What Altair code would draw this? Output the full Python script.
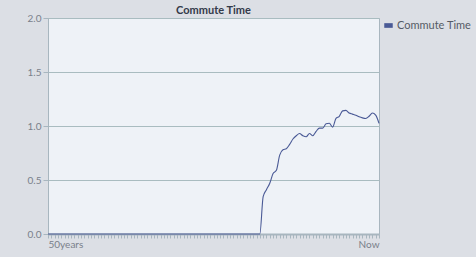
import altair as alt
import pandas as pd

# x positions (index of period, 0 = 50 years ago, 100 = now)
periods = list(range(101))
commute = [0.0] * 65 + [
    0.345, 0.41, 0.47, 0.56, 0.59, 0.73, 0.78, 0.79, 0.83, 0.88,
    0.91, 0.93, 0.91, 0.90, 0.93, 0.91, 0.95, 0.98, 0.98, 1.02,
    1.025, 0.99, 1.07, 1.09, 1.14, 1.145, 1.12, 1.11, 1.10, 1.085,
    1.075, 1.07, 1.09, 1.12, 1.10, 1.025,
]
x_tick_labels = {0: "50years", 100: "Now"}
y_ticks = [0.0, 0.5, 1.0, 1.5, 2.0]
series_name = "Commute Time"

df = pd.DataFrame({"period": periods, "value": commute, "series": series_name})

FONT = "Lato"
LINE_COLOR = "#4a5a96"
label_expr = "datum.value == 0 ? '%s' : (datum.value == 100 ? '%s' : '')" % (
    x_tick_labels[0], x_tick_labels[100])

chart = alt.Chart(df).mark_line(strokeWidth=1.1, interpolate="monotone").encode(
    x=alt.X("period:Q",
            scale=alt.Scale(domain=[0, 100], nice=False, zero=False),
            axis=alt.Axis(title=None, values=periods, labelExpr=label_expr,
                          labelFlush=True, labelOverlap=False, grid=False,
                          tickSize=4, tickColor="#a8b6bf", domainColor="#a8b6bf",
                          domainWidth=2, labelColor="#7a808a", labelFontSize=10,
                          labelFont=FONT, labelPadding=1)),
    y=alt.Y("value:Q",
            scale=alt.Scale(domain=[0, 2], nice=False),
            axis=alt.Axis(title=None, values=y_ticks, format=".1f",
                          grid=True, gridColor="#a9bcc0", gridWidth=1,
                          tickSize=5, tickColor="#a8b6bf", domainColor="#a8b6bf",
                          labelColor="#7a808a", labelFontSize=10, labelFont=FONT,
                          labelPadding=2)),
    color=alt.Color("series:N",
                    scale=alt.Scale(range=[LINE_COLOR]),
                    legend=alt.Legend(title=None, orient="none", legendX=335, legendY=2,
                                      symbolType="M-1,-0.55H1V0.55H-1Z", symbolSize=72,
                                      symbolFillColor=LINE_COLOR, symbolStrokeWidth=0,
                                      symbolOpacity=1,
                                      labelFont=FONT, labelFontSize=11,
                                      labelColor="#555b66", labelOffset=3)),
).properties(
    width=331,
    height=216,
    title=alt.TitleParams(series_name, font=FONT, fontSize=11, fontWeight="bold",
                          color="#333a4a", anchor="middle", offset=-3),
    background="#dcdfe5",
    padding={"left": 48, "top": 18, "right": 97, "bottom": 23},
    autosize=alt.AutoSizeParams(type="none"),
).configure_view(
    fill="#eef2f7", stroke="#a8b6bf", strokeWidth=1
)

chart.save("out.html", embed_options={"renderer": "svg", "actions": False})
